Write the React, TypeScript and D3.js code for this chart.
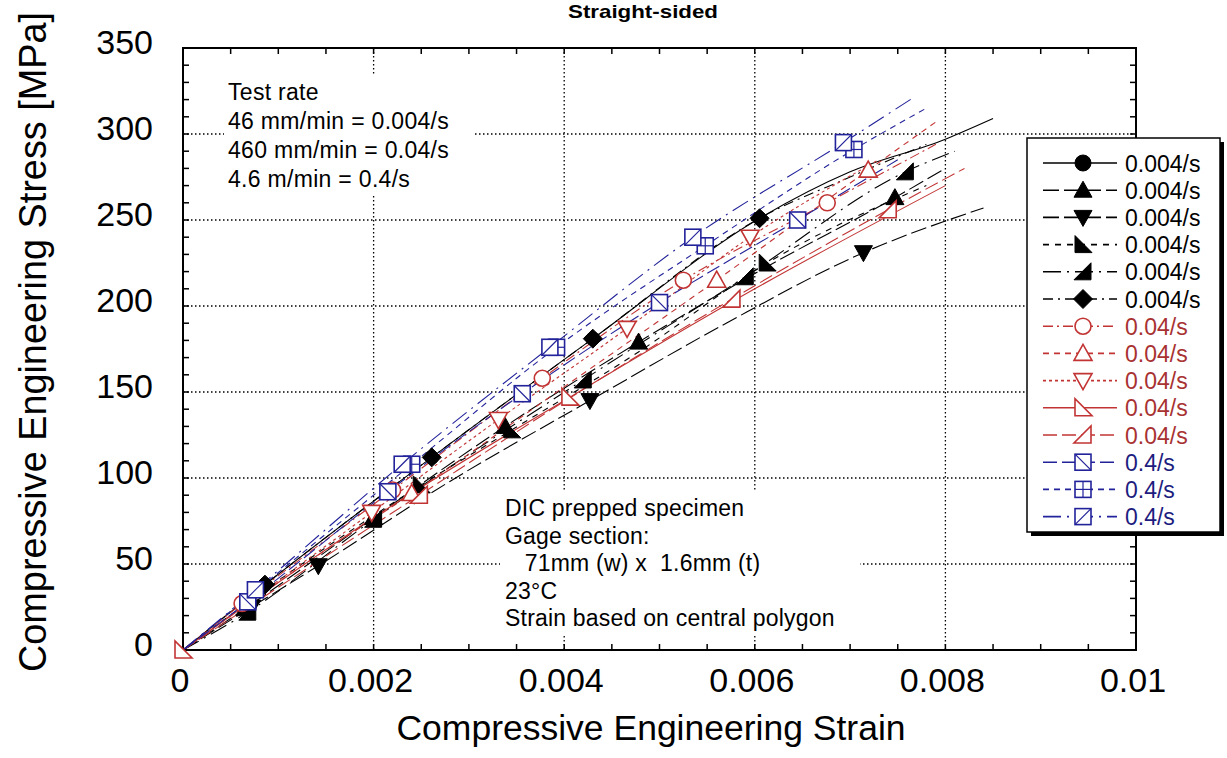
import React from "react";
import * as d3 from "d3";

const W = 1227;
const H = 758;

// ---- axis ticks ----
const xTicks = [0, 0.002, 0.004, 0.006, 0.008, 0.01];
const xTickLabels = ["0", "0.002", "0.004", "0.006", "0.008", "0.01"];
const yTicks = [0, 50, 100, 150, 200, 250, 300, 350];
const yTickLabels = ["0", "50", "100", "150", "200", "250", "300", "350"];
const xGrid = [0.002, 0.004, 0.006, 0.008];
const yGrid = [50, 100, 150, 200, 250, 300];

// ---- legend ----
const legendLabels = [
  "0.004/s", "0.004/s", "0.004/s", "0.004/s", "0.004/s", "0.004/s",
  "0.04/s", "0.04/s", "0.04/s", "0.04/s", "0.04/s",
  "0.4/s", "0.4/s", "0.4/s",
];

const noteTop = ["Test rate", "46 mm/min = 0.004/s", "460 mm/min = 0.04/s", "4.6 m/min = 0.4/s"];
const noteBottom = ["DIC prepped specimen", "Gage section:", "   71mm (w) x  1.6mm (t)", "23°C", "Strain based on central polygon"];

type P = [number, number];

// ---- 0.004/s (black) ----
const s1Curve: P[] = [[0, 0], [0.00086, 38], [0.00261, 112], [0.0043, 181], [0.00605, 251], [0.007, 278], [0.008, 297], [0.0085, 309]];
const s1Marks: P[] = [[0.00086, 38], [0.00261, 112], [0.0043, 181], [0.00605, 251]];
const s2Curve: P[] = [[0, 0], [0.00065, 24], [0.002, 77], [0.00338, 130], [0.00478, 179], [0.0061, 222], [0.00747, 263], [0.008, 280]];
const s2Marks: P[] = [[0.00065, 24], [0.002, 77], [0.00338, 130], [0.00478, 179], [0.00747, 263]];
const s3Curve: P[] = [[0, 0], [0.00072, 25], [0.00142, 49], [0.0028, 98], [0.00427, 145], [0.0057, 190], [0.00714, 231], [0.0084, 257]];
const s3Marks: P[] = [[0.00072, 25], [0.00142, 49], [0.00427, 145], [0.00714, 231]];
const s4Curve: P[] = [[0, 0], [0.0013, 52], [0.0025, 96], [0.00345, 128], [0.0048, 174], [0.00613, 225], [0.0078, 270]];
const s4Marks: P[] = [[0.0025, 96], [0.00345, 128], [0.00613, 225]];
const s5Curve: P[] = [[0, 0], [0.00068, 22], [0.002, 76], [0.0042, 157], [0.0059, 217], [0.00758, 278], [0.0081, 290]];
const s5Marks: P[] = [[0.00068, 22], [0.002, 76], [0.0042, 157], [0.0059, 217], [0.00758, 278]];
const s6Curve: P[] = [[0, 0], [0.00086, 38], [0.00261, 112], [0.0043, 181], [0.00605, 251], [0.007, 275], [0.0078, 294]];
const s6Marks: P[] = [[0.00086, 38], [0.00261, 112], [0.0043, 181], [0.00605, 251]];

// ---- 0.04/s (red) ----
const s7Curve: P[] = [[0, 0], [0.00062, 27], [0.0022, 93], [0.00377, 158], [0.00525, 215], [0.00676, 260], [0.0079, 294]];
const s7Marks: P[] = [[0.00062, 27], [0.0022, 93], [0.00377, 158], [0.00525, 215], [0.00676, 260]];
const s8Curve: P[] = [[0, 0], [0.0012, 47], [0.0024, 91], [0.004, 153], [0.0056, 215], [0.00719, 279], [0.0079, 307]];
const s8Marks: P[] = [[0.0024, 91], [0.0056, 215], [0.00719, 279]];
const s9Curve: P[] = [[0, 0], [0.00198, 80], [0.00331, 134], [0.00466, 187], [0.00595, 240], [0.0073, 285]];
const s9Marks: P[] = [[0.00198, 80], [0.00331, 134], [0.00466, 187], [0.00595, 240]];
const s10Curve: P[] = [[0, 0], [0.002, 77], [0.00406, 147], [0.006, 210], [0.008, 270]];
const s10Marks: P[] = [[0, 0], [0.00406, 147]];
const s11Curve: P[] = [[0, 0], [0.00248, 90], [0.0041, 148], [0.00576, 204], [0.0074, 256], [0.0082, 280]];
const s11Marks: P[] = [[0.00248, 90], [0.00576, 204], [0.0074, 256]];

// ---- 0.4/s (blue) ----
const s12Curve: P[] = [[0, 0], [0.00068, 28], [0.00215, 92], [0.00356, 149], [0.005, 202], [0.00645, 250], [0.0075, 285]];
const s12Marks: P[] = [[0.00068, 28], [0.00215, 92], [0.00356, 149], [0.005, 202], [0.00645, 250]];
const s13Curve: P[] = [[0, 0], [0.0008, 36], [0.0024, 108], [0.00392, 176], [0.00548, 235], [0.00704, 291], [0.0078, 315]];
const s13Marks: P[] = [[0.0024, 108], [0.00392, 176], [0.00548, 235], [0.00704, 291]];
const s14Curve: P[] = [[0, 0], [0.00076, 35], [0.0023, 108], [0.00385, 176], [0.00535, 240], [0.00693, 295], [0.00766, 321]];
const s14Marks: P[] = [[0.00076, 35], [0.0023, 108], [0.00385, 176], [0.00535, 240], [0.00693, 295]];

const BLACK = "#000000";
const RED = "#c23434";
const BLUE = "#22229a";
const RED_TXT = "#a83232";
const BLUE_TXT = "#1d1d80";

const series = [
  { curve: s1Curve, marks: s1Marks, color: BLACK, text: BLACK, dash: "none", marker: "circleF" },
  { curve: s2Curve, marks: s2Marks, color: BLACK, text: BLACK, dash: "16,5", marker: "triUpF" },
  { curve: s3Curve, marks: s3Marks, color: BLACK, text: BLACK, dash: "16,5", marker: "triDownF" },
  { curve: s4Curve, marks: s4Marks, color: BLACK, text: BLACK, dash: "6,6", marker: "rtLeftF" },
  { curve: s5Curve, marks: s5Marks, color: BLACK, text: BLACK, dash: "18,6,2,6", marker: "rtRightF" },
  { curve: s6Curve, marks: s6Marks, color: BLACK, text: BLACK, dash: "10,5,2,5", marker: "diamondF" },
  { curve: s7Curve, marks: s7Marks, color: RED, text: RED_TXT, dash: "10,4,2,4", marker: "circleO" },
  { curve: s8Curve, marks: s8Marks, color: RED, text: RED_TXT, dash: "6,5", marker: "triUpO" },
  { curve: s9Curve, marks: s9Marks, color: RED, text: RED_TXT, dash: "3,3", marker: "triDownO" },
  { curve: s10Curve, marks: s10Marks, color: RED, text: RED_TXT, dash: "none", marker: "rtLeftO" },
  { curve: s11Curve, marks: s11Marks, color: RED, text: RED_TXT, dash: "14,5", marker: "rtRightO" },
  { curve: s12Curve, marks: s12Marks, color: BLUE, text: BLUE_TXT, dash: "14,5", marker: "sqBack" },
  { curve: s13Curve, marks: s13Marks, color: BLUE, text: BLUE_TXT, dash: "6,5", marker: "sqPlus" },
  { curve: s14Curve, marks: s14Marks, color: BLUE, text: BLUE_TXT, dash: "18,6,2,6", marker: "sqSlash" },
];

const FONT = "'Liberation Sans', Arial, Helvetica, sans-serif";

function Marker({ type, x, y, color, small }: { type: string; x: number; y: number; color: string; small?: boolean }) {
  const filled = { fill: "#000", stroke: "#000", strokeWidth: 1 };
  const open = { fill: "#fff", stroke: color, strokeWidth: 1.6 };
  switch (type) {
    case "circleF":
      return <circle cx={x} cy={y} r={small ? 6.8 : 8} {...filled} />;
    case "circleO":
      return <circle cx={x} cy={y} r={8} {...open} />;
    case "triUpF":
    case "triUpO":
      return <polygon points={`${x},${y - 9} ${x + 9},${y + 7} ${x - 9},${y + 7}`} {...(type === "triUpF" ? filled : open)} />;
    case "triDownF":
    case "triDownO":
      return <polygon points={`${x - 9},${y - 7} ${x + 9},${y - 7} ${x},${y + 9}`} {...(type === "triDownF" ? filled : open)} />;
    case "rtLeftF":
    case "rtLeftO":
      return <polygon points={`${x - 8},${y - 9} ${x - 8},${y + 8} ${x + 9},${y + 8}`} {...(type === "rtLeftF" ? filled : open)} />;
    case "rtRightF":
    case "rtRightO":
      return <polygon points={`${x + 8},${y - 9} ${x + 8},${y + 8} ${x - 9},${y + 8}`} {...(type === "rtRightF" ? filled : open)} />;
    case "diamondF":
      return <polygon points={`${x},${y - 9.5} ${x + 9.5},${y} ${x},${y + 9.5} ${x - 9.5},${y}`} {...filled} />;
    case "sqBack":
      return (
        <g>
          <rect x={x - 8} y={y - 8} width={16} height={16} {...open} />
          <line x1={x - 8} y1={y - 8} x2={x + 8} y2={y + 8} stroke={color} strokeWidth={1.2} />
        </g>
      );
    case "sqSlash":
      return (
        <g>
          <rect x={x - 8} y={y - 8} width={16} height={16} {...open} />
          <line x1={x - 8} y1={y + 8} x2={x + 8} y2={y - 8} stroke={color} strokeWidth={1.2} />
        </g>
      );
    case "sqPlus":
      return (
        <g>
          <rect x={x - 8} y={y - 8} width={16} height={16} {...open} />
          <line x1={x - 8} y1={y} x2={x + 8} y2={y} stroke={color} strokeWidth={1.2} />
          <line x1={x} y1={y - 8} x2={x} y2={y + 8} stroke={color} strokeWidth={1.2} />
        </g>
      );
    default:
      return null;
  }
}

export default function App() {
  const left = 183, right = 1136, top = 48, bottom = 650;
  const x = d3.scaleLinear().domain([0, 0.01]).range([left, right]);
  const y = d3.scaleLinear().domain([0, 350]).range([bottom, top]);
  const line = d3
    .line<P>()
    .x((d) => x(d[0]))
    .y((d) => y(d[1]))
    .curve(d3.curveMonotoneX);

  const xMinor = d3.range(0, 0.01 + 1e-9, 0.0005);
  const yMinor = d3.range(0, 351, 10);

  const legX = 1027, legY = 138, legW = 193, legH = 394;
  const rowY = (i: number) => 163 + i * 27.2;

  return (
    <svg
      width={W}
      height={H}
      viewBox={`0 0 ${W} ${H}`}
      style={{ position: "absolute", left: 0, top: 0, background: "#fff" }}
      fontFamily={FONT}
    >
      <rect x={0} y={0} width={W} height={H} fill="#fff" />
      <defs>
        <clipPath id="plotClip">
          <rect x={left} y={top} width={right - left} height={bottom - top} />
        </clipPath>
      </defs>

      {/* title */}
      <text x={643} y={18} fontSize={19} fontWeight="bold" textAnchor="middle" textLength={150} lengthAdjust="spacingAndGlyphs">
        Straight-sided
      </text>

      {/* grid */}
      {xGrid.map((v) => (
        <line key={"gx" + v} x1={x(v)} x2={x(v)} y1={top} y2={bottom} stroke="#000" strokeWidth={1.3} strokeDasharray="1.5,2.5" />
      ))}
      {yGrid.map((v) => (
        <line key={"gy" + v} x1={left} x2={right} y1={y(v)} y2={y(v)} stroke="#000" strokeWidth={1.3} strokeDasharray="1.5,2.5" />
      ))}

      {/* note boxes (white background hides grid) */}
      <rect x={224} y={76} width={250} height={120} fill="#fff" />
      {noteTop.map((t, i) => (
        <text key={"nt" + i} x={228} y={100 + i * 29} fontSize={23} letterSpacing={0.3} fill="#000">
          {t}
        </text>
      ))}
      <rect x={500} y={490} width={360} height={144} fill="#fff" />
      {noteBottom.map((t, i) => (
        <text key={"nb" + i} x={505} y={516 + i * 27.6} fontSize={23} letterSpacing={0.2} fill="#000" style={{ whiteSpace: "pre" }}>
          {t}
        </text>
      ))}

      {/* minor ticks */}
      {xMinor.map((v, i) => (
        <g key={"xm" + i}>
          <line x1={x(v)} x2={x(v)} y1={bottom} y2={bottom - 6} stroke="#000" strokeWidth={1.5} />
          <line x1={x(v)} x2={x(v)} y1={top} y2={top + 6} stroke="#000" strokeWidth={1.5} />
        </g>
      ))}
      {yMinor.map((v, i) => (
        <g key={"ym" + i}>
          <line x1={left} x2={left + 6} y1={y(v)} y2={y(v)} stroke="#000" strokeWidth={1.5} />
          <line x1={right} x2={right - 6} y1={y(v)} y2={y(v)} stroke="#000" strokeWidth={1.5} />
        </g>
      ))}

      {/* data lines */}
      <g clipPath="url(#plotClip)">
        {series.map((s, i) => (
          <path
            key={"l" + i}
            d={line(s.curve) || ""}
            fill="none"
            stroke={s.color}
            strokeWidth={1.1}
            strokeDasharray={s.dash === "none" ? undefined : s.dash}
          />
        ))}
      </g>

      {/* plot frame */}
      <rect x={left} y={top} width={right - left} height={bottom - top} fill="none" stroke="#000" strokeWidth={2} />

      {/* markers */}
      {series.map((s, i) => (
        <g key={"m" + i}>
          {s.marks.map((d, j) => (
            <Marker key={j} type={s.marker} x={x(d[0])} y={y(d[1])} color={s.color} small />
          ))}
        </g>
      ))}

      {/* tick labels */}
      {xTicks.map((v, i) => (
        <text key={"xl" + i} x={x(v) - 3} y={692} fontSize={34} textAnchor="middle" fill="#000">
          {xTickLabels[i]}
        </text>
      ))}
      {yTicks.map((v, i) => (
        <text key={"yl" + i} x={153} y={y(v) + 6} fontSize={34} textAnchor="end" fill="#000">
          {yTickLabels[i]}
        </text>
      ))}

      {/* axis titles */}
      <text x={651} y={740} fontSize={35.5} textAnchor="middle" fill="#000">
        Compressive Engineering Strain
      </text>
      <text
        transform="translate(46,342) rotate(-90)"
        fontSize={38}
        textAnchor="middle"
        fill="#000"
        textLength={660}
        lengthAdjust="spacingAndGlyphs"
      >
        Compressive Engineering Stress [MPa]
      </text>

      {/* legend */}
      <rect x={legX + 4} y={legY + 4} width={legW} height={legH} fill="#000" />
      <rect x={legX} y={legY} width={legW} height={legH} fill="#fff" stroke="#000" strokeWidth={1.5} />
      {series.map((s, i) => (
        <g key={"lg" + i}>
          <line
            x1={1043}
            x2={1117}
            y1={rowY(i)}
            y2={rowY(i)}
            stroke={s.color}
            strokeWidth={1.6}
            strokeDasharray={s.dash === "none" ? undefined : s.dash}
          />
          <Marker type={s.marker} x={1083} y={rowY(i)} color={s.color} />
          <text x={1125} y={rowY(i) + 8.5} fontSize={23} fill={s.text}>
            {legendLabels[i]}
          </text>
        </g>
      ))}
    </svg>
  );
}
